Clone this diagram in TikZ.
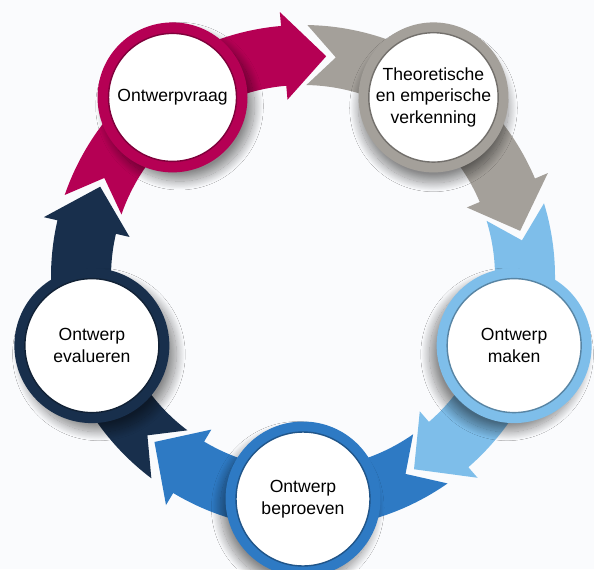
\documentclass[tikz,border=0pt]{standalone}
\usepackage{fontspec}
\setmainfont{Liberation Sans}
\usetikzlibrary{shadows.blur}
\definecolor{vraagkleur}{RGB}{181,0,84}
\definecolor{verkkleur}{RGB}{164,160,154}
\definecolor{makenkleur}{RGB}{126,190,234}
\definecolor{beproefkleur}{RGB}{46,122,196}
\definecolor{evalkleur}{RGB}{24,47,76}
\definecolor{achtergrond}{RGB}{250,251,253}
\tikzset{
  ring/.style={circle,fill=#1,inner sep=0pt},
  binnen/.style={circle,fill=white,draw=#1!70!black,line width=0.8pt,inner sep=0pt,
    align=center,font=\fontsize{10}{12.3}\selectfont},
  schaduw/.style n args={2}{blur shadow={shadow xshift=#1,shadow yshift=#2,
    shadow blur radius=5pt,shadow blur steps=25,shadow opacity=45}}
}
\begin{document}
\begin{tikzpicture}[x=0.02cm,y=0.02cm]
	\fill[achtergrond] (0,0) rectangle (594,569);
	\useasboundingbox (0,0) rectangle (594,569);
	\begin{scope}[shift={(303,292)}]
		\coordinate (m) at (0,0);
		\fill[vraagkleur] (161:252) arc[start angle=161,end angle=95,radius=252] -- (95:266) -- (84:222) -- (95:178) -- (95:192) arc[start angle=95,end angle=161,radius=192] -- (153.5:222) -- cycle;
		\fill[verkkleur] (89:252) arc[start angle=89,end angle=23,radius=252] -- (23:266) -- (12:222) -- (23:178) -- (23:192) arc[start angle=23,end angle=89,radius=192] -- (81.5:222) -- cycle;
		\fill[makenkleur] (17:252) arc[start angle=17,end angle=-49,radius=252] -- (-49:266) -- (-60:222) -- (-49:178) -- (-49:192) arc[start angle=-49,end angle=17,radius=192] -- (9.5:222) -- cycle;
		\fill[beproefkleur] (-55:252) arc[start angle=-55,end angle=-121,radius=252] -- (-121:266) -- (-132:222) -- (-121:178) -- (-121:192) arc[start angle=-121,end angle=-55,radius=192] -- (-62.5:222) -- cycle;
		\fill[evalkleur] (-127:252) arc[start angle=-127,end angle=-193,radius=252] -- (-193:266) -- (-204:222) -- (-193:178) -- (-193:192) arc[start angle=-193,end angle=-127,radius=192] -- (-134.5:222) -- cycle;

		\node (vraag) at (126:222) [ring=vraagkleur,minimum size=3cm,schaduw={4pt}{-5pt}] {};
		\node [binnen=vraagkleur,minimum size=2.56cm] at (vraag) {Ontwerpvraag};
		\node (verk) at (54:222) [ring=verkkleur,minimum size=3cm,schaduw={0pt}{-6pt}] {};
		\node [binnen=verkkleur,minimum size=2.56cm] at (verk) {Theoretische\\en emperische\\verkenning};
		\node (maken) at (-18:222) [ring=makenkleur,minimum size=3.1cm,schaduw={-4pt}{-5pt}] {};
		\node [binnen=makenkleur,minimum size=2.68cm] at (maken) {Ontwerp\\maken};
		\node (beproef) at (-90:222) [ring=beproefkleur,minimum size=3.1cm,schaduw={-3pt}{-5pt}] {};
		\node [binnen=beproefkleur,minimum size=2.68cm] at (beproef) {Ontwerp\\beproeven};
		\node (eval) at (-162:222) [ring=evalkleur,minimum size=3.1cm,schaduw={4pt}{-5pt}] {};
		\node [binnen=evalkleur,minimum size=2.68cm] at (eval) {Ontwerp\\evalueren};
	\end{scope}
\end{tikzpicture}
\end{document}
